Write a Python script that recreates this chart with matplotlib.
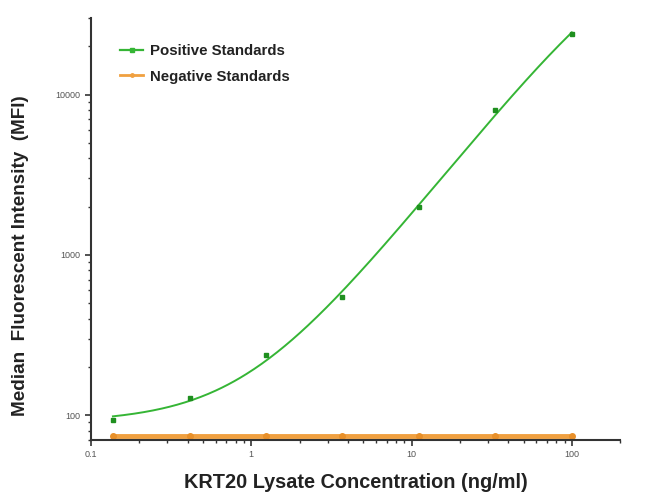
import numpy as np
import matplotlib
matplotlib.use("Agg")
import matplotlib.pyplot as plt
from matplotlib.ticker import LogLocator, FixedLocator, NullFormatter

plt.rcParams["font.family"] = ["Liberation Sans", "DejaVu Sans"]

# standards (3-fold dilution series)
conc = [0.137, 0.412, 1.23, 3.70, 11.1, 33.3, 100.0]
pos_mfi = [93, 128, 237, 544, 1986, 7980, 24040]
neg_mfi = [74, 74, 74, 74, 74, 74, 74]

x_ticks = [0.1, 1, 10, 100]
x_labels = ["0.1", "1", "10", "100"]
y_ticks = [100, 1000, 10000]
y_labels = ["100", "1000", "10000"]

green = "#35b535"
orange = "#f0a040"


def four_pl(x, p):
    # p = log10(bottom), log10(top), log10(ec50), hill
    la, ld, lc, b = p
    a, d = 10 ** la, 10 ** ld
    return d + (a - d) / (1.0 + (x / 10 ** lc) ** b)


def lm_fit(x, ly, p0, iters=500):
    # small Levenberg-Marquardt on log10 residuals
    p = np.asarray(p0, float)
    lam = 1e-2

    def res(q):
        with np.errstate(all="ignore"):
            m = four_pl(x, q)
        if not np.all(np.isfinite(m)) or np.any(m <= 0):
            return np.full_like(ly, 1e6)
        return np.log10(m) - ly

    r = res(p)
    for _ in range(iters):
        J = np.zeros((len(x), len(p)))
        for k in range(len(p)):
            dp = np.zeros_like(p)
            dp[k] = 1e-6
            J[:, k] = (res(p + dp) - r) / 1e-6
        A = J.T @ J
        g = J.T @ r
        try:
            step = np.linalg.solve(A + lam * (np.diag(np.diag(A)) + 1e-9 * np.eye(len(p))), -g)
        except np.linalg.LinAlgError:
            lam *= 4
            continue
        r_new = res(p + step)
        if np.sum(r_new ** 2) < np.sum(r ** 2):
            p = p + step
            r = r_new
            lam = max(lam * 0.5, 1e-9)
        else:
            lam *= 4
            if lam > 1e8:
                break
    return p, np.sum(r ** 2)


def fit_curve(x, y):
    x = np.asarray(x, float)
    ly = np.log10(np.asarray(y, float))
    best, best_sse = None, np.inf
    for lc in [0.5, 1.0, 1.5, 2.0, 2.5]:
        for b in [0.9, 1.3, 1.8]:
            p, sse = lm_fit(x, ly, [1.9, 4.6, lc, b])
            if sse < best_sse:
                best, best_sse = p, sse
    return best


params = fit_curve(conc, pos_mfi)
xs = np.logspace(np.log10(conc[0]), np.log10(conc[-1]), 300)

fig = plt.figure(figsize=(6.5, 5.04), dpi=100)
ax = fig.add_axes([0.14, 0.127, 0.814, 0.837])

ax.plot(xs, four_pl(xs, params), color=green, lw=1.4)
ax.plot(conc, pos_mfi, ls="none", marker="s", ms=3, color="#1f8f1f")
ax.plot(conc, neg_mfi, color=orange, lw=3.5, marker="o", ms=4,
        markerfacecolor="#e8902a", markeredgecolor="#e8902a")

ax.set_xscale("log")
ax.set_yscale("log")
ax.set_xlim(0.1, 200)
ax.set_ylim(70, 30000)

ax.xaxis.set_major_locator(FixedLocator(x_ticks))
ax.set_xticklabels(x_labels)
ax.yaxis.set_major_locator(FixedLocator(y_ticks))
ax.set_yticklabels(y_labels)
ax.xaxis.set_minor_locator(LogLocator(base=10, subs=np.arange(2, 10)))
ax.yaxis.set_minor_locator(LogLocator(base=10, subs=np.arange(2, 10)))
ax.xaxis.set_minor_formatter(NullFormatter())
ax.yaxis.set_minor_formatter(NullFormatter())

for s in ["top", "right"]:
    ax.spines[s].set_visible(False)
for s in ["left", "bottom"]:
    ax.spines[s].set_linewidth(1.5)
    ax.spines[s].set_color("#333333")
ax.tick_params(which="major", direction="out", length=4, width=1.2,
               labelsize=6.5, colors="#333333", labelcolor="#555555")
ax.tick_params(which="minor", direction="out", length=2.5, width=1.0,
               colors="#333333")

ax.set_xlabel("KRT20 Lysate Concentration (ng/ml)", fontsize=14.3,
              fontweight="bold", color="#222222", labelpad=10)
ax.set_ylabel("Median  Fluorescent Intensity  (MFI)", fontsize=13.6,
              fontweight="bold", color="#222222")
ax.yaxis.set_label_coords(-0.117, 0.436)

leg = ax.legend(
    [plt.Line2D([], [], color=green, marker="s", ms=2.5, lw=1.6),
     plt.Line2D([], [], color=orange, marker="o", ms=2.5, lw=2)],
    ["Positive Standards", "Negative Standards"],
    loc="upper left", bbox_to_anchor=(0.03, 0.97), frameon=False,
    fontsize=10.8, handlelength=1.5, handletextpad=0.5, labelspacing=0.75)
for t in leg.get_texts():
    t.set_fontweight("bold")
    t.set_color("#222222")

fig.savefig("out.png", dpi=100)
